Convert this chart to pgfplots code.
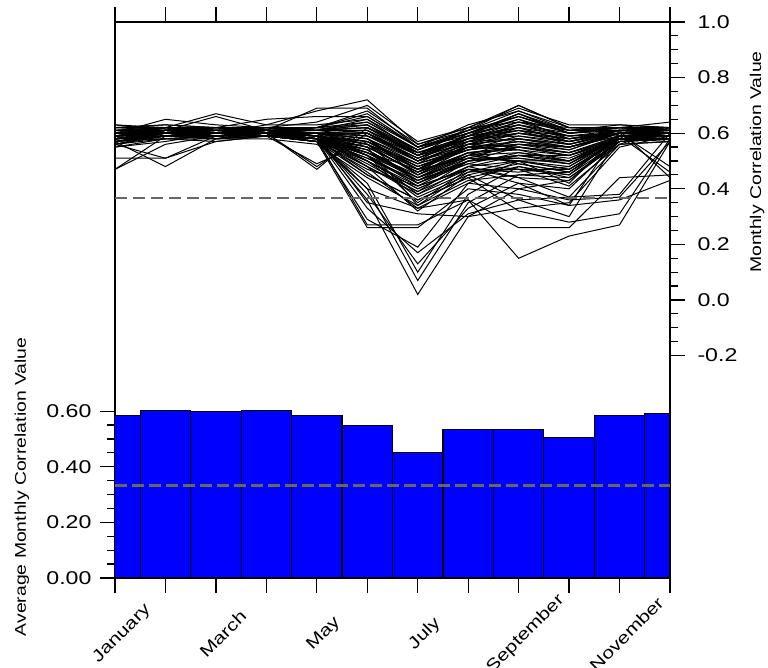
\documentclass[border=0pt]{standalone}
\usepackage{pgfplots}
\pgfplotsset{compat=1.18}
\usepackage{pgfplotstable}
\usepackage{fontspec}
\setmainfont{Liberation Sans}[FakeStretch=1.25]

\definecolor{refgray}{rgb}{0.40,0.40,0.40}

% Monthly mean correlation (bars)
\pgfplotstableread{
x v
0  0.585
1  0.604
2  0.599
3  0.604
4  0.585
5  0.548
6  0.452
7  0.535
8  0.533
9  0.507
10 0.585
11 0.591
}\bars

% Individual monthly correlation series, one row per series
\pgfplotstableread{
id  Jan  Feb  Mar  Apr  May  Jun  Jul  Aug  Sep  Oct  Nov  Dec
s1  0.59 0.60 0.60 0.61 0.60 0.58 0.50 0.56 0.60 0.58 0.60 0.60
s2  0.58 0.61 0.59 0.60 0.59 0.55 0.46 0.52 0.58 0.55 0.59 0.59
s3  0.60 0.62 0.61 0.60 0.61 0.62 0.54 0.60 0.66 0.60 0.61 0.60
s4  0.57 0.59 0.60 0.59 0.58 0.52 0.42 0.50 0.55 0.52 0.58 0.58
s5  0.59 0.60 0.62 0.61 0.60 0.60 0.52 0.58 0.62 0.57 0.60 0.61
s6  0.58 0.60 0.59 0.61 0.59 0.50 0.40 0.48 0.52 0.50 0.59 0.60
s7  0.60 0.61 0.60 0.62 0.62 0.66 0.55 0.61 0.68 0.62 0.62 0.61
s8  0.56 0.59 0.58 0.59 0.57 0.48 0.38 0.46 0.50 0.47 0.57 0.58
s9  0.59 0.62 0.61 0.60 0.60 0.57 0.48 0.55 0.57 0.54 0.60 0.59
s10 0.61 0.60 0.60 0.61 0.61 0.59 0.53 0.57 0.63 0.59 0.61 0.62
s11 0.58 0.59 0.61 0.60 0.58 0.54 0.44 0.53 0.54 0.52 0.58 0.59
s12 0.60 0.61 0.62 0.62 0.61 0.63 0.52 0.62 0.64 0.61 0.61 0.60
s13 0.57 0.60 0.59 0.60 0.57 0.45 0.36 0.44 0.48 0.45 0.57 0.58
s14 0.59 0.60 0.60 0.59 0.60 0.56 0.49 0.54 0.59 0.56 0.60 0.60
s15 0.62 0.62 0.61 0.62 0.62 0.68 0.56 0.62 0.70 0.62 0.62 0.62
s16 0.58 0.59 0.60 0.60 0.59 0.53 0.47 0.51 0.56 0.53 0.59 0.59
s17 0.60 0.61 0.61 0.61 0.60 0.60 0.51 0.59 0.61 0.59 0.60 0.61
s18 0.57 0.58 0.59 0.59 0.57 0.47 0.41 0.47 0.46 0.48 0.58 0.57
s19 0.59 0.61 0.60 0.60 0.60 0.58 0.45 0.55 0.56 0.55 0.60 0.60
s20 0.61 0.62 0.62 0.62 0.61 0.64 0.54 0.60 0.65 0.60 0.62 0.61
s21 0.58 0.60 0.60 0.59 0.58 0.51 0.43 0.49 0.53 0.50 0.59 0.59
s22 0.60 0.60 0.61 0.61 0.60 0.61 0.50 0.57 0.60 0.57 0.61 0.60
s23 0.56 0.58 0.58 0.58 0.56 0.44 0.34 0.43 0.45 0.44 0.56 0.57
s24 0.59 0.61 0.60 0.61 0.59 0.56 0.47 0.56 0.58 0.56 0.60 0.60
s25 0.60 0.62 0.61 0.62 0.61 0.62 0.53 0.58 0.63 0.58 0.61 0.61
s26 0.58 0.59 0.59 0.60 0.58 0.49 0.39 0.50 0.51 0.49 0.58 0.58
s27 0.61 0.61 0.62 0.61 0.62 0.67 0.55 0.60 0.67 0.61 0.62 0.62
s28 0.59 0.60 0.60 0.60 0.59 0.55 0.46 0.53 0.55 0.53 0.59 0.59
s29 0.57 0.59 0.58 0.60 0.58 0.50 0.37 0.45 0.49 0.46 0.58 0.58
s30 0.60 0.61 0.60 0.61 0.60 0.59 0.51 0.58 0.61 0.58 0.60 0.61
s31 0.59 0.60 0.61 0.60 0.59 0.57 0.48 0.54 0.57 0.55 0.60 0.59
s32 0.58 0.60 0.60 0.60 0.58 0.53 0.44 0.52 0.53 0.51 0.58 0.59
s33 0.60 0.61 0.62 0.61 0.61 0.61 0.52 0.59 0.62 0.57 0.61 0.61
s34 0.59 0.59 0.59 0.60 0.60 0.56 0.42 0.51 0.50 0.48 0.59 0.60
s35 0.61 0.62 0.61 0.62 0.61 0.63 0.54 0.61 0.66 0.60 0.62 0.62
s36 0.60 0.65 0.63 0.62 0.64 0.70 0.57 0.62 0.69 0.63 0.63 0.62
s37 0.59 0.62 0.67 0.63 0.68 0.72 0.56 0.61 0.70 0.62 0.62 0.61
s38 0.60 0.61 0.66 0.61 0.69 0.69 0.55 0.63 0.68 0.61 0.63 0.62
s39 0.62 0.63 0.62 0.65 0.66 0.66 0.55 0.60 0.67 0.60 0.62 0.64
s40 0.63 0.62 0.60 0.63 0.63 0.65 0.53 0.58 0.64 0.62 0.61 0.60
s41 0.47 0.59 0.60 0.60 0.59 0.56 0.45 0.52 0.55 0.52 0.59 0.59
s42 0.47 0.56 0.59 0.60 0.58 0.54 0.43 0.50 0.52 0.50 0.58 0.58
s43 0.57 0.48 0.58 0.59 0.60 0.58 0.47 0.55 0.57 0.55 0.60 0.60
s44 0.51 0.51 0.57 0.59 0.58 0.52 0.44 0.50 0.52 0.52 0.57 0.58
s45 0.58 0.60 0.60 0.60 0.47 0.62 0.52 0.58 0.60 0.58 0.60 0.60
s46 0.59 0.60 0.59 0.60 0.48 0.60 0.50 0.56 0.58 0.56 0.60 0.59
s47 0.59 0.60 0.60 0.59 0.49 0.57 0.48 0.54 0.56 0.55 0.59 0.60
s48 0.56 0.51 0.59 0.60 0.58 0.55 0.46 0.53 0.55 0.53 0.58 0.58
s49 0.58 0.60 0.60 0.60 0.58 0.36 0.02 0.30 0.40 0.43 0.58 0.59
s50 0.59 0.60 0.59 0.60 0.58 0.40 0.07 0.35 0.45 0.46 0.58 0.58
s51 0.58 0.59 0.60 0.59 0.57 0.42 0.10 0.38 0.48 0.44 0.57 0.58
s52 0.57 0.59 0.59 0.60 0.58 0.38 0.13 0.33 0.42 0.40 0.57 0.58
s53 0.58 0.60 0.60 0.60 0.58 0.33 0.17 0.31 0.36 0.37 0.56 0.57
s54 0.58 0.59 0.59 0.59 0.57 0.29 0.19 0.42 0.50 0.47 0.58 0.58
s55 0.57 0.59 0.58 0.59 0.57 0.26 0.26 0.40 0.38 0.34 0.36 0.43
s56 0.58 0.60 0.59 0.60 0.58 0.27 0.27 0.36 0.26 0.26 0.44 0.45
s57 0.59 0.60 0.60 0.60 0.59 0.35 0.31 0.30 0.33 0.35 0.55 0.59
s58 0.58 0.59 0.59 0.59 0.57 0.40 0.33 0.36 0.15 0.23 0.27 0.57
s59 0.58 0.59 0.60 0.60 0.58 0.45 0.36 0.44 0.32 0.28 0.31 0.58
s60 0.59 0.60 0.60 0.60 0.59 0.48 0.32 0.45 0.36 0.30 0.59 0.46
s61 0.59 0.60 0.60 0.61 0.59 0.52 0.35 0.47 0.44 0.37 0.38 0.60
s62 0.58 0.60 0.59 0.60 0.58 0.46 0.33 0.42 0.40 0.36 0.37 0.57
s63 0.60 0.60 0.61 0.60 0.60 0.52 0.38 0.48 0.50 0.42 0.60 0.48
s64 0.59 0.61 0.60 0.60 0.59 0.55 0.34 0.46 0.47 0.41 0.56 0.62
s65 0.59 0.60 0.60 0.61 0.60 0.50 0.41 0.47 0.42 0.34 0.61 0.44
s66 0.55 0.58 0.59 0.60 0.59 0.57 0.49 0.55 0.54 0.50 0.59 0.60
s67 0.63 0.61 0.60 0.61 0.62 0.60 0.51 0.57 0.61 0.56 0.61 0.61
s68 0.56 0.60 0.61 0.60 0.58 0.53 0.45 0.53 0.49 0.46 0.58 0.59
s69 0.62 0.63 0.62 0.61 0.61 0.61 0.53 0.59 0.64 0.59 0.60 0.60
s70 0.55 0.57 0.60 0.59 0.58 0.51 0.42 0.49 0.47 0.45 0.59 0.58
s71 0.61 0.62 0.61 0.60 0.62 0.64 0.54 0.61 0.66 0.61 0.62 0.61
s72 0.57 0.60 0.58 0.61 0.59 0.55 0.46 0.56 0.55 0.53 0.58 0.60
s73 0.60 0.61 0.60 0.60 0.60 0.58 0.49 0.58 0.59 0.57 0.61 0.62
s74 0.58 0.58 0.57 0.59 0.57 0.50 0.40 0.48 0.44 0.43 0.57 0.58
s75 0.62 0.61 0.62 0.62 0.61 0.62 0.52 0.56 0.62 0.59 0.60 0.61
s76 0.56 0.59 0.60 0.59 0.59 0.54 0.44 0.51 0.51 0.49 0.59 0.59
s77 0.60 0.62 0.61 0.61 0.60 0.59 0.50 0.60 0.63 0.60 0.61 0.60
s78 0.58 0.60 0.59 0.60 0.59 0.56 0.47 0.54 0.56 0.54 0.60 0.59
s79 0.59 0.61 0.62 0.60 0.60 0.52 0.41 0.50 0.52 0.49 0.59 0.60
s80 0.61 0.60 0.61 0.62 0.61 0.65 0.55 0.59 0.67 0.60 0.62 0.61
s81 0.57 0.59 0.59 0.59 0.58 0.48 0.39 0.47 0.47 0.47 0.58 0.58
s82 0.60 0.61 0.60 0.61 0.59 0.57 0.47 0.57 0.58 0.55 0.60 0.60
s83 0.59 0.60 0.61 0.60 0.60 0.60 0.50 0.55 0.60 0.57 0.60 0.61
s84 0.58 0.61 0.60 0.61 0.59 0.53 0.43 0.52 0.50 0.50 0.58 0.59
s85 0.61 0.62 0.62 0.61 0.62 0.63 0.53 0.59 0.65 0.58 0.61 0.62
}\rawlines
\pgfplotstabletranspose[colnames from=id]\lines\rawlines

\pgfplotsset{
  /pgf/number format/assume math mode=true,
  common/.style={
    at={(0,0)}, anchor=south west,
    scale only axis, width=555pt, height=556pt,
    xmin=0, xmax=11,
    axis line style={line width=1.4pt},
    tick style={black, line width=1.2pt},
    tick align=outside,
    major tick length=15pt, minor tick length=8pt,
    ticklabel style={font=\fontsize{18.5}{18.5}\selectfont},
    clip=true,
  },
}

\begin{document}
\begin{tikzpicture}
\path[use as bounding box] (-115pt,-90pt) rectangle (653pt,578pt);

% lower panel: monthly averages on the left scale
\begin{axis}[
  common,
  ymin=0, ymax=2,
  xtick={0,...,11},
  xticklabels={January,,March,,May,,July,,September,,November,},
  xtick pos=both, xticklabel pos=lower,
  xticklabel style={xshift=7pt, yshift=-41pt, rotate=45, anchor=center,
    font=\fontsize{16.7}{16.7}\selectfont},
  ytick={0,0.2,0.4,0.6},
  minor ytick={0.05,0.1,0.15,0.25,0.3,0.35,0.45,0.5,0.55},
  ytick pos=left,
  yticklabel style={xshift=-5pt, /pgf/number format/.cd, fixed, fixed zerofill, precision=2},
  ylabel={Average Monthly Correlation Value},
  every axis y label/.style={at={(axis description cs:-0.1676,0.164)}, rotate=90,
    anchor=center, font=\fontsize{15.5}{15.5}\selectfont},
]
\addplot[ybar, bar width=1, fill=blue, draw=black, line width=1.1pt] table[x=x, y=v]{\bars};
\end{axis}

% upper panel: individual series on the right scale (left scale = right scale + 1)
\begin{axis}[
  common,
  ymin=-1, ymax=1,
  axis x line=none,
  axis y line*=right,
  ytick={-0.2,0,0.2,0.4,0.6,0.8,1.0},
  minor ytick={-0.15,-0.1,-0.05,0.05,0.1,0.15,0.25,0.3,0.35,0.45,0.5,0.55,0.65,0.7,0.75,0.85,0.9,0.95},
  yticklabel style={xshift=9pt, /pgf/number format/.cd, fixed, fixed zerofill, precision=1},
  ylabel={Monthly Correlation Value},
  every axis y label/.style={at={(axis description cs:1.157,0.748)}, rotate=90,
    anchor=center, font=\fontsize{15.5}{15.5}\selectfont},
]
% reference level of the averages (0.333 on the left scale)
\addplot[refgray, line width=2.2pt, dash pattern=on 12pt off 5pt] coordinates {(0,-0.667) (11,-0.667)};
\pgfplotsinvokeforeach{1,...,85}{
  \addplot[black, line width=1pt, no markers] table[x expr=\coordindex, y=s#1]{\lines};
}
\addplot[refgray, line width=1.8pt, dash pattern=on 12pt off 6pt] coordinates {(0,0.368) (11,0.368)};
\end{axis}
\end{tikzpicture}
\end{document}
